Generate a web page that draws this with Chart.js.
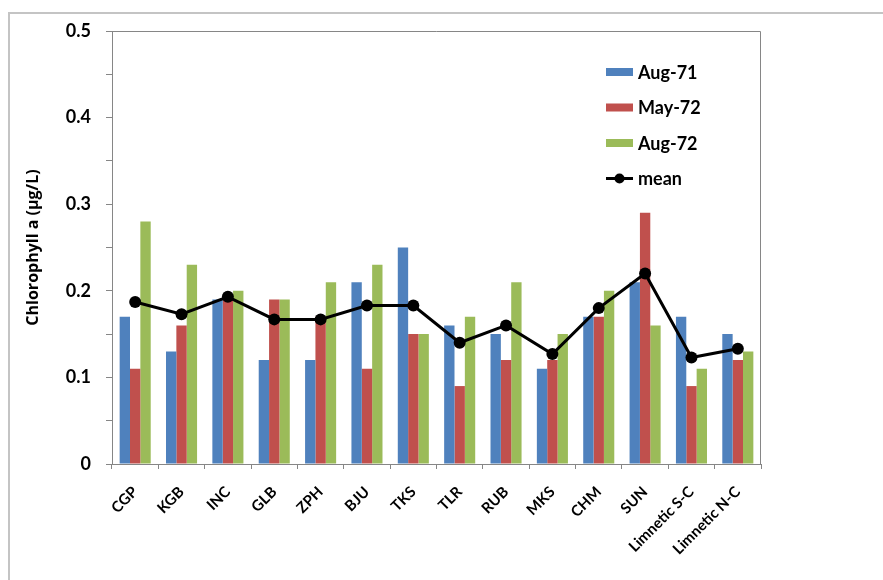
<!DOCTYPE html>
<html>
<head>
<meta charset="utf-8">
<script src="https://cdn.jsdelivr.net/npm/chart.js@4/dist/chart.umd.min.js"></script>
<style>
  html, body { margin: 0; padding: 0; background: #fff; }
  #wrap { width: 883px; height: 580px; position: relative; }
</style>
</head>
<body>
<div id="wrap"><canvas id="chart" width="883" height="580"></canvas></div>
<script>
  // ====== data ======
  const categories = ['CGP', 'KGB', 'INC', 'GLB', 'ZPH', 'BJU', 'TKS', 'TLR', 'RUB', 'MKS', 'CHM', 'SUN', 'Limnetic S-C', 'Limnetic N-C'];
  const aug71 = [0.17, 0.13, 0.19, 0.12, 0.12, 0.21, 0.25, 0.16, 0.15, 0.11, 0.17, 0.21, 0.17, 0.15];
  const may72 = [0.11, 0.16, 0.19, 0.19, 0.17, 0.11, 0.15, 0.09, 0.12, 0.12, 0.17, 0.29, 0.09, 0.12];
  const aug72 = [0.28, 0.23, 0.20, 0.19, 0.21, 0.23, 0.15, 0.17, 0.21, 0.15, 0.20, 0.16, 0.11, 0.13];
  const meanVals = [0.187, 0.173, 0.193, 0.167, 0.167, 0.183, 0.183, 0.140, 0.160, 0.127, 0.180, 0.220, 0.123, 0.133];
  const yTitle = 'Chlorophyll a (\u00b5g/L)';

  const FONT = 'Lato, "Liberation Sans", sans-serif';

  // outer frame + plot box
  const framePlugin = {
    id: 'frame',
    beforeDraw(chart) {
      let ctx = chart.ctx;
      ctx.save();
      ctx.strokeStyle = '#c4c4c4';
      ctx.lineWidth = 2;
      ctx.strokeRect(9, 13, 900, 600);
      ctx.restore();
    },
    afterDatasetsDraw(chart) {
      let { ctx, chartArea: a } = chart;
      ctx.save();
      ctx.strokeStyle = '#868686';
      ctx.lineWidth = 1;
      ctx.beginPath();
      ctx.moveTo(a.left, a.top + 0.5);
      ctx.lineTo(a.right - 0.5, a.top + 0.5);
      ctx.lineTo(a.right - 0.5, a.bottom);
      ctx.stroke();
      ctx.restore();
    }
  };

  // legend drawn inside the plot area
  const legendPlugin = {
    id: 'insideLegend',
    afterDraw(chart) {
      let ctx = chart.ctx;
      let x = 606, y = 72, step = 35.5;
      ctx.save();
      ctx.font = 'bold 18px ' + FONT;
      ctx.textBaseline = 'middle';
      ctx.fillStyle = '#000';
      chart.data.datasets.forEach((ds, i) => {
        let yc = y + i * step;
        if (ds.type === 'line') {
          ctx.strokeStyle = '#000';
          ctx.lineWidth = 3;
          ctx.beginPath();
          ctx.moveTo(x, yc);
          ctx.lineTo(x + 27, yc);
          ctx.stroke();
          ctx.beginPath();
          ctx.arc(x + 13.5, yc, 5, 0, Math.PI * 2);
          ctx.fillStyle = '#000';
          ctx.fill();
        } else {
          ctx.fillStyle = ds.backgroundColor;
          ctx.fillRect(x, yc - 4, 27, 8);
        }
        ctx.fillStyle = '#000';
        ctx.fillText(ds.label, x + 32, yc + 1);
      });
      ctx.restore();
    }
  };

  let ctx = document.getElementById('chart').getContext('2d');

  let chart = new Chart(ctx, {
    type: 'bar',
    data: {
      labels: categories,
      datasets: [
        { label: 'Aug-71', data: aug71, backgroundColor: '#4F81BD', order: 2 },
        { label: 'May-72', data: may72, backgroundColor: '#C0504D', order: 2 },
        { label: 'Aug-72', data: aug72, backgroundColor: '#9BBB59', order: 2 },
        {
          label: 'mean', type: 'line', data: meanVals, order: 1,
          borderColor: '#000', backgroundColor: '#000', borderWidth: 3,
          pointRadius: 6, pointBackgroundColor: '#000', pointBorderWidth: 0,
          tension: 0
        }
      ]
    },
    options: {
      responsive: false,
      animation: false,
      layout: { padding: { left: 20, top: 31, right: 122, bottom: 0 } },
      datasets: { bar: { categoryPercentage: 0.67, barPercentage: 1.0 } },
      plugins: { legend: { display: false }, tooltip: { enabled: false } },
      scales: {
        x: {
          offset: true,
          grid: { offset: true, drawOnChartArea: false, drawTicks: true, tickLength: 5, color: '#868686' },
          border: { display: true, color: '#868686', width: 1 },
          ticks: {
            autoSkip: false, maxRotation: 45, minRotation: 45, padding: 14,
            color: '#000', font: { family: FONT, size: 15, weight: 'bold' }
          },
          afterFit(scale) { scale.height = 116; }
        },
        y: {
          min: 0, max: 0.5,
          grid: { drawOnChartArea: false, drawTicks: true, tickLength: 6, color: '#868686' },
          border: { display: true, color: '#868686', width: 1 },
          ticks: {
            stepSize: 0.05, padding: 15, color: '#000',
            font: { family: FONT, size: 18, weight: 'bold' },
            callback: (v) => {
              let t = v * 10;
              if (Math.abs(t - Math.round(t)) > 1e-6) return '';
              return v === 0 ? '0' : v.toFixed(1);
            }
          },
          title: {
            display: true, text: yTitle, color: '#000',
            font: { family: '"Open Sans", sans-serif', size: 16, weight: 'bold' },
            padding: { top: 4, bottom: 4 }
          },
          afterFit(scale) { scale.width = 92; }
        }
      }
    },
    plugins: [framePlugin, legendPlugin]
  });
</script>
</body>
</html>
